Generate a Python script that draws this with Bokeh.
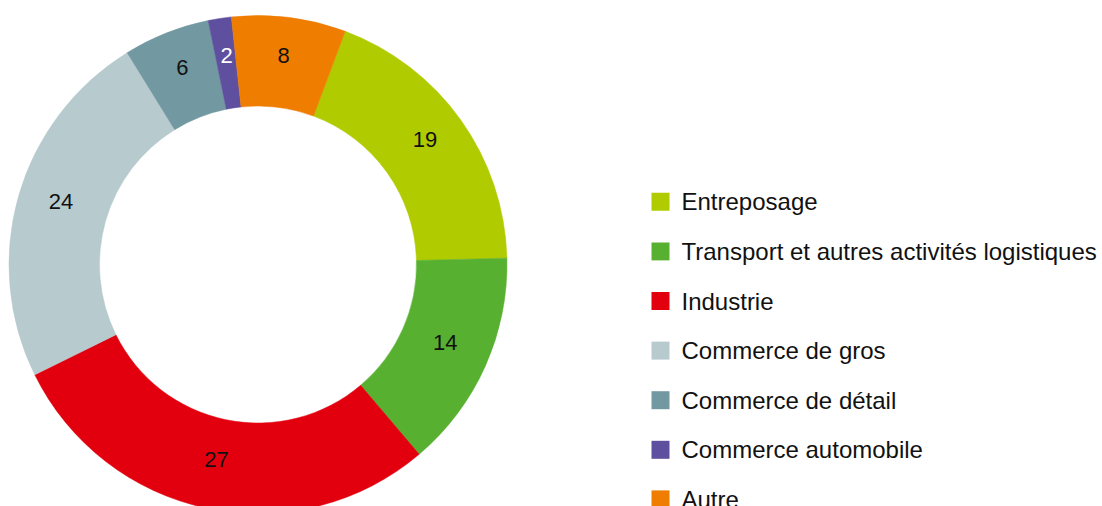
import math
from bokeh.plotting import figure
from bokeh.models import Range1d, ColumnDataSource
from bokeh.core.properties import value
from bokeh.embed import file_html
from bokeh.resources import INLINE

# ---- data ----
categories = ["Entreposage", "Transport et autres activités logistiques", "Industrie",
              "Commerce de gros", "Commerce de détail", "Commerce automobile", "Autre"]
shares = [18.9, 14.2, 28.9, 23.5, 5.6, 1.5, 7.4]          # slice sizes as drawn (%)
labels = ["19", "14", "27", "24", "6", "2", "8"]           # printed slice labels
colors = ["#b0cb00", "#58b030", "#e2000f", "#b7cace", "#7298a1", "#5f4f9f", "#ef7d00"]
label_colors = ["#111111", "#111111", "#111111", "#111111", "#111111", "#ffffff", "#111111"]

W, H = 1102, 506
p = figure(width=W, height=H, output_backend="svg", toolbar_location=None,
           x_range=Range1d(0, W), y_range=Range1d(0, H), min_border=0)
p.axis.visible = False
p.grid.visible = False
p.outline_line_color = None
p.background_fill_color = "white"
p.border_fill_color = "white"

cx, cy = 257.5, 506 - 264.0
r_out, r_in = 249.0, 158.5
start0 = math.radians(69.5)
total = sum(shares)

starts, ends, mids = [], [], []
cum = 0.0
for v in shares:
    a0 = start0 - 2 * math.pi * cum / total
    a1 = start0 - 2 * math.pi * (cum + v) / total
    starts.append(a0)
    ends.append(a1)
    mids.append((a0 + a1) / 2)
    cum += v

src = ColumnDataSource(dict(x=[cx] * len(shares), y=[cy] * len(shares),
                            start=starts, end=ends, color=colors))
p.annular_wedge(x="x", y="y", inner_radius=r_in, outer_radius=r_out,
                start_angle="start", end_angle="end", direction="clock",
                fill_color="color", line_color="color", line_width=0.5, source=src)

r_lab = 205.0
lift = 6.0
lsrc = ColumnDataSource(dict(x=[cx + r_lab * math.cos(m) for m in mids],
                             y=[cy + r_lab * math.sin(m) + lift for m in mids],
                             t=labels, c=label_colors))
p.text(x="x", y="y", text="t", text_color="c", text_align="center",
       text_baseline="middle", text_font=value("Liberation Sans"),
       text_font_size="22px", source=lsrc)

# legend
leg_x, leg_y0, leg_dy = 660.0, 506 - 201.3, 49.6
ys = [leg_y0 - i * leg_dy for i in range(len(categories))]
p.rect(x=[leg_x] * len(categories), y=ys, width=18, height=18,
       fill_color=colors, line_color=None)
p.text(x=[leg_x + 21] * len(categories), y=ys, text=categories,
       text_align="left", text_baseline="middle", text_color="#111111",
       text_font=value("Liberation Sans"), text_font_size="24px")

open("out.html", "w").write(file_html(p, INLINE))
